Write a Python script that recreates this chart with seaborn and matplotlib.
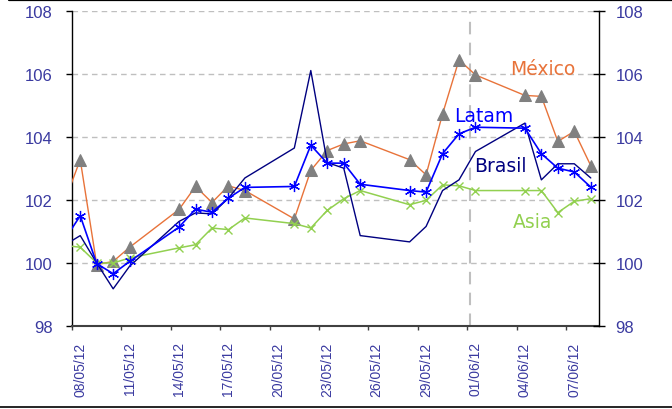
#!/usr/bin/env python
# -*- coding: utf-8 -*-
"""Latin America vs Asia index chart, May-June 2012."""
import matplotlib
matplotlib.use('Agg')
import matplotlib.pyplot as plt
import matplotlib.dates as mdates
import seaborn as sns
import pandas as pd

DATES = ['2012-05-07', '2012-05-08', '2012-05-09', '2012-05-10', '2012-05-11',
         '2012-05-14', '2012-05-15', '2012-05-16', '2012-05-17', '2012-05-18',
         '2012-05-21', '2012-05-22', '2012-05-23', '2012-05-24', '2012-05-25',
         '2012-05-28', '2012-05-29', '2012-05-30', '2012-05-31', '2012-06-01',
         '2012-06-04', '2012-06-05', '2012-06-06', '2012-06-07', '2012-06-08']

MEXICO = [101.88, 103.28, 99.95, 100.05, 100.5,
          101.7, 102.43, 101.92, 102.45, 102.3,
          101.4, 102.94, 103.57, 103.78, 103.88,
          103.28, 102.8, 104.73, 106.45, 105.97,
          105.32, 105.29, 103.86, 104.18, 103.09]

LATAM = [100.7, 101.5, 99.98, 99.66, 100.05,
         101.14, 101.71, 101.61, 102.06, 102.4,
         102.43, 103.74, 103.17, 103.17, 102.5,
         102.3, 102.25, 103.47, 104.1, 104.31,
         104.28, 103.47, 103.01, 102.89, 102.41]

BRASIL = [100.55, 100.87, 100.0, 99.18, 99.9,
          101.32, 101.59, 101.56, 102.06, 102.7,
          103.65, 106.11, 103.19, 103.01, 100.87,
          100.67, 101.16, 102.3, 102.64, 103.54,
          104.44, 102.64, 103.15, 103.15, 102.7]

ASIA = [100.56, 100.5, 100.0, 100.0, 100.16,
        100.48, 100.58, 101.11, 101.06, 101.43,
        101.25, 101.11, 101.67, 102.04, 102.3,
        101.85, 101.99, 102.48, 102.45, 102.3,
        102.3, 102.3, 101.6, 101.96, 102.04]

Y_TICKS = [98, 100, 102, 104, 106, 108]
X_START = '2012-05-08'
X_END = '2012-06-09'
MARK_DAY = '2012-06-01'

COL_MEX = '#E8733A'
COL_LATAM = '#0000FF'
COL_BRASIL = '#000080'
COL_ASIA = '#92D050'
COL_TEXT = '#3A3AA0'
COL_GRID = '#BFBFBF'
TICK_FONT = 'Liberation Sans'


def main():
    sns.set_style('white')
    plt.rcParams['font.family'] = ['DejaVu Sans']

    # Excel-style date axis: each point sits in the middle of its day
    dfr = pd.DataFrame({'date': pd.to_datetime(DATES) + pd.Timedelta(hours=12),
                        'mexico': MEXICO, 'latam': LATAM,
                        'brasil': BRASIL, 'asia': ASIA})

    fig = plt.figure(figsize=(6.72, 4.10), dpi=100)
    ax = fig.add_axes([72 / 672, 83 / 410, 527 / 672, 315 / 410])

    # seaborn paints marker edges white by default, so give them colour
    sns.lineplot(data=dfr, x='date', y='mexico', ax=ax, color=COL_MEX,
                 lw=1.0, marker='^', ms=8, mfc='#808080', mec='#808080',
                 zorder=3)
    sns.lineplot(data=dfr, x='date', y='asia', ax=ax, color=COL_ASIA,
                 lw=1.1, marker='x', ms=6, mew=1.0, mec=COL_ASIA, zorder=3)
    sns.lineplot(data=dfr, x='date', y='brasil', ax=ax, color=COL_BRASIL,
                 lw=1.0, zorder=4)
    sns.lineplot(data=dfr, x='date', y='latam', ax=ax, color=COL_LATAM,
                 lw=1.2, marker=(6, 2, 0), ms=8, mew=0.9, mec=COL_LATAM,
                 zorder=5)

    x0 = mdates.date2num(pd.Timestamp(X_START))
    x1 = mdates.date2num(pd.Timestamp(X_END))
    ax.set_xlim(x0, x1)
    ax.set_ylim(Y_TICKS[0], Y_TICKS[-1])
    ax.set_xlabel('')
    ax.set_ylabel('')

    # tick marks on day boundaries, labels centred on the day
    ticks = pd.date_range(X_START, '2012-06-07', freq='3D')
    ax.set_xticks(mdates.date2num(ticks))
    ax.set_xticklabels([])
    ax.set_xticks(mdates.date2num(ticks + pd.Timedelta(hours=12)), minor=True)
    ax.set_xticklabels(ticks.strftime('%d/%m/%y'), minor=True, rotation=90,
                       fontsize=10, color=COL_TEXT, family=TICK_FONT)
    ax.tick_params(axis='x', which='major', direction='out', length=3,
                   width=1, color='#404040', bottom=True)
    ax.tick_params(axis='x', which='minor', length=0, pad=11, bottom=True)

    ax.set_yticks(Y_TICKS)
    ax.set_yticklabels([str(v) for v in Y_TICKS], family=TICK_FONT)
    ax.tick_params(axis='y', direction='out', length=4, width=1,
                   color='black', left=True, labelsize=12,
                   labelcolor=COL_TEXT, pad=10)
    for yval in Y_TICKS[1:]:
        ax.axhline(yval, color=COL_GRID, lw=1, ls=(0, (4, 3)), zorder=1)
    ax.axvline(mdates.date2num(pd.Timestamp(MARK_DAY)) + 0.15,
               color=COL_GRID, lw=1.5, ls=(0, (6, 4)), zorder=1)

    for side in ['top', 'right']:
        ax.spines[side].set_visible(False)
    ax.spines['left'].set_color('black')
    ax.spines['bottom'].set_color('#404040')
    ax.spines['left'].set_linewidth(1)
    ax.spines['bottom'].set_linewidth(1.5)

    axr = ax.twinx()
    axr.set_ylim(Y_TICKS[0], Y_TICKS[-1])
    axr.set_yticks(Y_TICKS)
    axr.set_yticklabels([str(v) for v in Y_TICKS], family=TICK_FONT)
    axr.tick_params(axis='y', direction='inout', length=8, width=1,
                    color='black', right=True, labelsize=12,
                    labelcolor=COL_TEXT, pad=8)
    for side in ['top', 'left', 'bottom']:
        axr.spines[side].set_visible(False)
    axr.spines['right'].set_color('black')
    axr.spines['right'].set_linewidth(1)

    # series names written straight on the chart
    base = x0
    ax.text(base + 28.6, 106.19, 'México', color=COL_MEX, fontsize=13.5,
            ha='center', va='center')
    ax.text(base + 25.0, 104.67, 'Latam', color=COL_LATAM, fontsize=13.5,
            ha='center', va='center')
    ax.text(base + 26.0, 103.11, 'Brasil', color=COL_BRASIL, fontsize=13.5,
            ha='center', va='center')
    ax.text(base + 27.95, 101.33, 'Asia', color=COL_ASIA, fontsize=13.5,
            ha='center', va='center')

    # rules above and below the chart
    fig.add_artist(plt.Line2D([9 / 672, 1], [1 - 1.2 / 410, 1 - 1.2 / 410],
                              color='black', lw=1.6))
    fig.add_artist(plt.Line2D([0, 1], [1.6 / 410, 1.6 / 410],
                              color='black', lw=1.2))

    fig.savefig('out.png', dpi=100, facecolor='white')


if __name__ == '__main__':
    main()
